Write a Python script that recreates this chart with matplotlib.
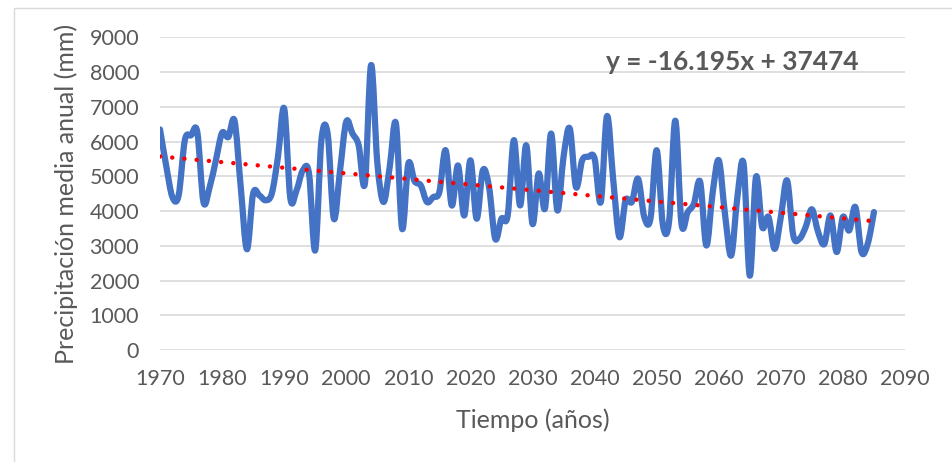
import numpy as np
import matplotlib.pyplot as plt
from matplotlib.path import Path
from matplotlib.patches import PathPatch, Rectangle

# Datos (precipitación media anual, mm)
anios = np.arange(1970, 2086)
precipitacion = [
    6350, 5300, 4400, 4450, 6040, 6180, 6280, 4260, 4690, 5460,   # 1970s
    6250, 6130, 6600, 4700, 2900, 4500, 4450, 4310, 4500, 5560,   # 1980s
    6950, 4360, 4600, 5170, 5080, 2870, 6040, 6230, 3780, 5170,   # 1990s
    6570, 6230, 5890, 4790, 8200, 5400, 4260, 5270, 6520, 3490,   # 2000s
    5360, 4860, 4740, 4260, 4400, 4550, 5750, 4160, 5310, 3870,   # 2010s
    5460, 3780, 5170, 4690, 3200, 3780, 3870, 6040, 4160, 5890,   # 2020s
    3630, 5080, 4070, 6230, 4020, 5560, 6375, 4690, 5460, 5560,   # 2030s
    5510, 4260, 6730, 4900, 3250, 4310, 4260, 4930, 3830, 3780,   # 2040s
    5750, 3600, 3700, 6600, 3630, 3970, 4210, 4840, 3010, 4500,   # 2050s
    5460, 3920, 2720, 4400, 5360, 2140, 4980, 3540, 3830, 2910,   # 2060s
    3830, 4880, 3300, 3200, 3540, 4050, 3400, 3050, 3870, 2820,   # 2070s
    3830, 3440, 4115, 2820, 3060, 3970,                           # 2080s
]

# Tendencia lineal (ecuación mostrada en el gráfico)
pendiente = -16.195
intercepto = 37474


def linea_suave(x, y):
    # curva tipo "línea suavizada" de Excel (Bezier cúbica)
    pts = np.column_stack([x, y]).astype(float)
    n = len(pts)
    verts = [pts[0]]
    codes = [Path.MOVETO]
    for i in range(n - 1):
        p0 = pts[max(i - 1, 0)]
        p1 = pts[i]
        p2 = pts[i + 1]
        p3 = pts[min(i + 2, n - 1)]
        verts += [p1 + (p2 - p0) / 6, p2 - (p3 - p1) / 6, p2]
        codes += [Path.CURVE4] * 3
    return Path(verts, codes)


plt.rcParams['font.family'] = ['Lato', 'DejaVu Sans']
gris = '#595959'

fig = plt.figure(figsize=(9.52, 4.62), dpi=100)
ax = fig.add_axes([160 / 952, 1 - 350 / 462, 745 / 952, 312.7 / 462])

# marco del área del gráfico
fig.patches.append(Rectangle((14 / 952, -0.1), 1.2, 1 - 8 / 462 + 0.1,
                             transform=fig.transFigure, fill=False,
                             edgecolor='#D9D9D9', lw=1))

ax.add_patch(PathPatch(linea_suave(anios, precipitacion), facecolor='none',
                       edgecolor='#4472C4', lw=4.5, capstyle='round',
                       joinstyle='round', zorder=3))

x_tend = np.array([anios[0], anios[-1]])
ax.plot(x_tend, pendiente * x_tend + intercepto, color='red', lw=3.2,
        linestyle=(0, (0.01, 2.75)), dash_capstyle='round', zorder=4)

ax.text(2062.2, 8290, 'y = -16.195x + 37474', fontsize=19, fontweight='bold',
        color=gris, ha='center', va='center')

ax.set_xlim(1970, 2090)
ax.set_ylim(0, 9000)
ax.set_xticks(range(1970, 2091, 10))
ax.set_yticks(range(0, 9001, 1000))
ax.grid(axis='y', color='#D9D9D9', lw=1.2)
ax.set_axisbelow(True)
for s in ax.spines.values():
    s.set_visible(False)
ax.tick_params(length=0, labelsize=15.5, colors=gris)
ax.tick_params(axis='x', pad=14)
ax.tick_params(axis='y', pad=15)

ax.set_xlabel('Tiempo (años)', fontsize=18, color=gris, labelpad=14)
ax.set_ylabel('Precipitación media anual (mm)', fontsize=18, color=gris, labelpad=8)

fig.savefig('out.png', dpi=100)
